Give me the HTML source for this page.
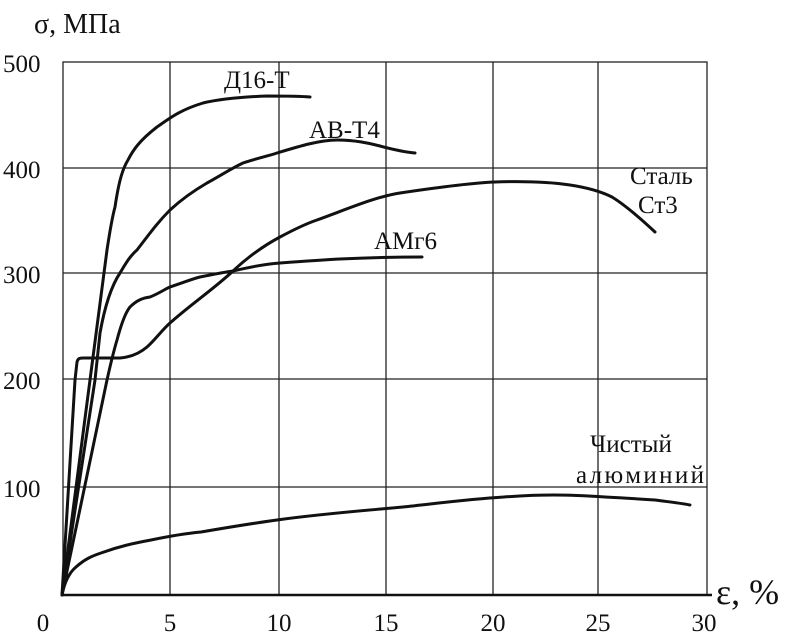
<!DOCTYPE html><html><head><meta charset="utf-8"><style>
body{margin:0;background:#fff}
svg text{font-family:"Liberation Serif",serif;fill:#111}
</style></head><body>
<svg width="790" height="637" viewBox="0 0 790 637" xmlns="http://www.w3.org/2000/svg">
<g stroke="#222" stroke-width="1.3" fill="none">
<rect x="63" y="62" width="644" height="533"/>
<line x1="170" y1="62" x2="170" y2="595"/><line x1="279" y1="62" x2="279" y2="595"/>
<line x1="386" y1="62" x2="386" y2="595"/><line x1="493" y1="62" x2="493" y2="595"/>
<line x1="598" y1="62" x2="598" y2="595"/>
<line x1="63" y1="168" x2="707" y2="168"/><line x1="63" y1="273" x2="707" y2="273"/>
<line x1="63" y1="379" x2="707" y2="379"/><line x1="63" y1="487" x2="707" y2="487"/>
</g>
<line x1="62" y1="595" x2="712" y2="595" stroke="#111" stroke-width="2.5"/>
<g stroke="#111" stroke-width="3" fill="none" stroke-linecap="round" stroke-linejoin="round">
<path d="M62,595 L90,380 L107,250 C110,230 112,218 115,207 C119,180 123,168 128,160 C133,150 140,140 157,127 C170,118 180,110 203,103 C220,99 240,97 267,96 C285,96 298,96 310,97"/>
<path d="M62,595 L95,380 L100,333 C105,305 112,285 120,273 C126,263 130,256 137,250 C150,233 158,222 170,210 C183,198 195,190 207,183 C220,176 232,168 243,163 C258,158 268,156 277,153 C300,146 320,140 337,140 C355,140 368,143 380,146 C395,150 405,152 415,153"/>
<path d="M62,595 L107,380 C111,362 114,350 117,340 C121,325 125,313 130,307 C137,300 143,298 150,297 C160,293 165,289 170,287 C185,282 192,279 200,277 C215,274 225,272 233,271 C250,267 265,264 280,263 C320,260 360,257 422,257"/>
<path d="M62,595 L75,380 L77,362 C78,358 80,358 84,358 L120,358 C132,357 140,353 147,347 C155,340 162,330 170,323 C190,305 215,288 233,271 C250,255 265,245 280,237 C295,229 305,224 317,220 C350,208 375,197 400,193 C440,187 470,183 495,182 C525,181 550,182 570,185 C590,188 602,192 612,197 C625,205 640,218 655,232"/>
<path d="M62,595 C65,580 70,572 76,567 C85,559 92,556 101,553 C120,546 135,543 151,540 C175,535 190,533 201,532 C230,527 255,523 277,520 C320,514 360,511 403,507 C440,503 470,499 504,497 C530,495 545,495 554,495 C575,495 590,496 605,497 C625,498 640,499 655,500 C670,502 680,503 690,505"/>
</g>
<g font-size="25">
<text x="34" y="33" font-size="28">σ, МПа</text>
<text x="3" y="72">500</text><text x="3" y="178">400</text><text x="3" y="283">300</text>
<text x="3" y="389">200</text><text x="3" y="497">100</text>
<g text-anchor="middle">
<text x="43" y="631">0</text><text x="170" y="631">5</text><text x="279" y="631">10</text>
<text x="386" y="631">15</text><text x="493" y="631">20</text><text x="598" y="631">25</text><text x="704" y="631">30</text>
</g>
<text x="224" y="88">Д16-Т</text><text x="309" y="138">АВ-Т4</text>
<text x="630" y="184">Сталь</text><text x="638" y="213">Ст3</text>
<text x="374" y="249">АМг6</text>
<text x="590" y="452">Чистый</text><text x="576" y="483" textLength="128">алюминий</text>
<text x="716" y="604" font-size="36">ε, %</text>
</g>
</svg>
</body></html>
